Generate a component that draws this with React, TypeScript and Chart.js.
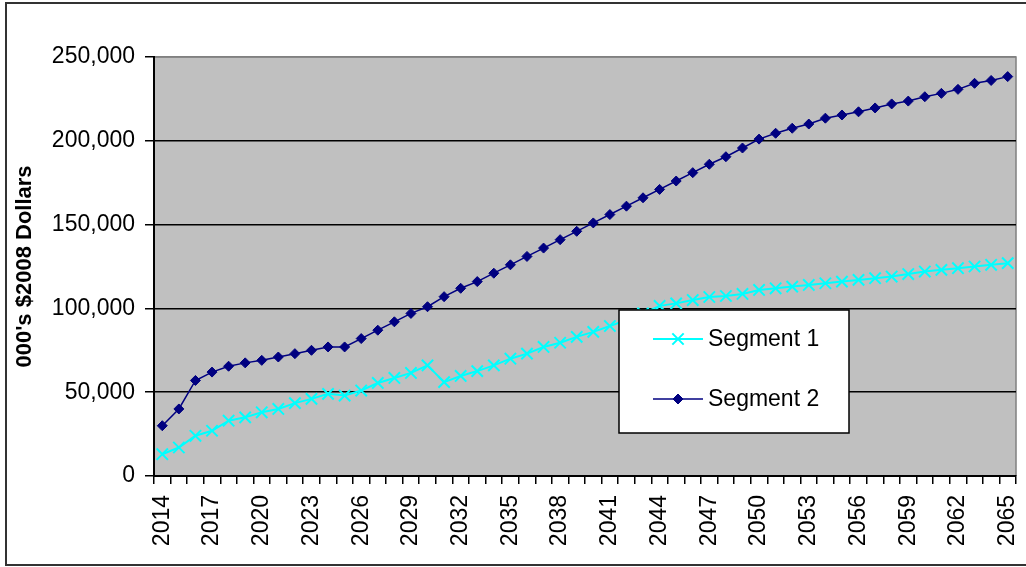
import React, { useEffect, useRef } from 'react';
import { Chart, registerables } from 'chart.js';

Chart.register(...registerables);

const years = [
  '2014', '2015', '2016', '2017', '2018', '2019', '2020', '2021', '2022', '2023',
  '2024', '2025', '2026', '2027', '2028', '2029', '2030', '2031', '2032', '2033',
  '2034', '2035', '2036', '2037', '2038', '2039', '2040', '2041', '2042', '2043',
  '2044', '2045', '2046', '2047', '2048', '2049', '2050', '2051', '2052', '2053',
  '2054', '2055', '2056', '2057', '2058', '2059', '2060', '2061', '2062', '2063',
  '2064', '2065',
];

const segment1 = [
  13000, 17000, 24000, 27000, 33000, 35000, 38000, 40000, 43500, 46000,
  49000, 48000, 51000, 55500, 58500, 61500, 66000, 56000, 59700, 62600,
  66000, 70000, 73000, 77000, 79500, 83000, 86000, 89500, 93000, 97000,
  101500, 103000, 105000, 106800, 107400, 108600, 111000, 112000, 113000, 114000,
  115000, 116000, 117000, 118000, 119000, 120500, 122000, 123000, 124000, 125000,
  126000, 127000,
];

const segment2 = [
  30000, 40000, 57000, 62000, 65500, 67500, 69000, 71000, 73000, 75000,
  77000, 77000, 82000, 87000, 92000, 97000, 101000, 107000, 112000, 116000,
  121000, 126000, 131000, 136000, 141000, 146000, 151000, 156000, 161000, 166000,
  171000, 176000, 181000, 186000, 190500, 195700, 201000, 204500, 207500, 210000,
  213500, 215400, 217300, 219600, 222000, 223700, 226300, 228300, 230700, 234300,
  236000, 238300,
];

const seriesNames = ['Segment 1', 'Segment 2'];
const yTitle = "000's $2008 Dollars";
const yMin = 0;
const yMax = 250000;
const yStep = 50000;
const labelEvery = 3;

const FONT = "'Liberation Sans', Arial, sans-serif";

const framePlugin = {
  id: 'excelFrame',
  beforeDraw(chart: any) {
    const { ctx, chartArea: a } = chart;
    ctx.save();
    ctx.fillStyle = '#ffffff';
    ctx.fillRect(0, 0, chart.width, chart.height);
    ctx.fillStyle = '#C0C0C0';
    ctx.fillRect(a.left, a.top, a.right - a.left, a.bottom - a.top);
    ctx.strokeStyle = '#808080';
    ctx.lineWidth = 1.5;
    ctx.beginPath();
    ctx.moveTo(a.left, a.top);
    ctx.lineTo(a.right, a.top);
    ctx.lineTo(a.right, a.bottom);
    ctx.stroke();
    ctx.strokeStyle = '#333333';
    ctx.lineWidth = 2;
    ctx.strokeRect(6, 3, 1030, 562);
    ctx.restore();
  },
};

const legendPlugin = {
  id: 'insideLegend',
  afterDatasetsDraw(chart: any) {
    const { ctx, chartArea: a } = chart;
    const x0 = a.left + 465;
    const y0 = a.top + 253;
    const w = 230;
    const h = 123;
    ctx.save();
    ctx.fillStyle = '#ffffff';
    ctx.fillRect(x0, y0, w, h);
    ctx.strokeStyle = '#000000';
    ctx.lineWidth = 1.5;
    ctx.strokeRect(x0, y0, w, h);
    chart.data.datasets.forEach((ds: any, i: number) => {
      const cy = y0 + 29 + i * 60;
      const mx = x0 + 59;
      ctx.strokeStyle = ds.borderColor;
      ctx.lineWidth = ds.borderWidth;
      ctx.beginPath();
      ctx.moveTo(x0 + 34, cy);
      ctx.lineTo(x0 + 84, cy);
      ctx.stroke();
      if (ds.pointStyle === 'crossRot') {
        const d = ds.pointRadius * Math.SQRT1_2;
        ctx.lineWidth = ds.pointBorderWidth;
        ctx.beginPath();
        ctx.moveTo(mx - d, cy - d);
        ctx.lineTo(mx + d, cy + d);
        ctx.moveTo(mx - d, cy + d);
        ctx.lineTo(mx + d, cy - d);
        ctx.stroke();
      } else {
        const r = ds.pointRadius;
        ctx.fillStyle = ds.pointBackgroundColor;
        ctx.beginPath();
        ctx.moveTo(mx - r, cy);
        ctx.lineTo(mx, cy - r);
        ctx.lineTo(mx + r, cy);
        ctx.lineTo(mx, cy + r);
        ctx.closePath();
        ctx.fill();
        ctx.lineWidth = ds.pointBorderWidth;
        ctx.stroke();
      }
      ctx.fillStyle = '#000000';
      ctx.font = `23px ${FONT}`;
      ctx.textAlign = 'left';
      ctx.textBaseline = 'middle';
      ctx.fillText(ds.label, x0 + 89, cy + 1);
    });
    ctx.restore();
  },
};

export default function App() {
  const canvasRef = useRef<HTMLCanvasElement | null>(null);

  useEffect(() => {
    if (!canvasRef.current) return;
    const chart = new Chart(canvasRef.current, {
      type: 'line',
      data: {
        labels: years,
        datasets: [
          {
            label: seriesNames[0],
            data: segment1,
            borderColor: '#00FFFF',
            backgroundColor: '#00FFFF',
            borderWidth: 2,
            pointStyle: 'crossRot',
            pointRadius: 8,
            pointBorderWidth: 2,
            pointBorderColor: '#00FFFF',
            pointBackgroundColor: '#00FFFF',
            tension: 0,
            fill: false,
          },
          {
            label: seriesNames[1],
            data: segment2,
            borderColor: '#000080',
            backgroundColor: '#000080',
            borderWidth: 1.5,
            pointStyle: 'rectRot',
            pointRadius: 5,
            pointBorderWidth: 1,
            pointBorderColor: '#000080',
            pointBackgroundColor: '#000080',
            tension: 0,
            fill: false,
          },
        ],
      },
      options: {
        responsive: false,
        animation: false,
        events: [],
        layout: { padding: { top: 57, right: 9, left: 0, bottom: 0 } },
        plugins: {
          legend: { display: false },
          tooltip: { enabled: false },
          title: { display: false },
        },
        scales: {
          x: {
            type: 'category',
            offset: true,
            afterFit(scale: any) {
              scale.height = 91;
              scale.paddingLeft = 0;
              scale.paddingRight = 0;
            },
            grid: {
              offset: true,
              drawOnChartArea: false,
              drawTicks: true,
              tickLength: 8,
              tickColor: '#000000',
              lineWidth: 1.5,
              color: '#000000',
            },
            border: { display: true, color: '#000000', width: 2 },
            ticks: {
              autoSkip: false,
              minRotation: 90,
              maxRotation: 90,
              padding: 11,
              color: '#000000',
              font: { family: FONT, size: 23 },
              callback: (_v: any, i: number) => (i % labelEvery === 0 ? years[i] : ''),
            },
          },
          y: {
            min: yMin,
            max: yMax,
            afterFit(scale: any) {
              scale.width = 154;
              scale.paddingTop = 0;
              scale.paddingBottom = 0;
            },
            grid: {
              drawTicks: true,
              tickLength: 9,
              tickColor: '#000000',
              lineWidth: 1.5,
              color: (ctx: any) => (ctx.tick && ctx.tick.value === yMax ? '#808080' : '#000000'),
            },
            border: { display: true, color: '#000000', width: 2 },
            ticks: {
              stepSize: yStep,
              padding: 10,
              color: '#000000',
              font: { family: FONT, size: 23 },
              callback: (v: any) => Number(v).toLocaleString('en-US'),
            },
            title: {
              display: true,
              text: yTitle,
              color: '#000000',
              font: { family: FONT, size: 22, weight: 'bold' },
              padding: { top: 12, bottom: 0 },
            },
          },
        },
      },
      plugins: [framePlugin, legendPlugin],
    });
    return () => chart.destroy();
  }, []);

  return (
    <div style={{ position: 'absolute', left: 0, top: 0, width: 1026, height: 567 }}>
      <canvas ref={canvasRef} width={1026} height={567} style={{ display: 'block' }} />
    </div>
  );
}
